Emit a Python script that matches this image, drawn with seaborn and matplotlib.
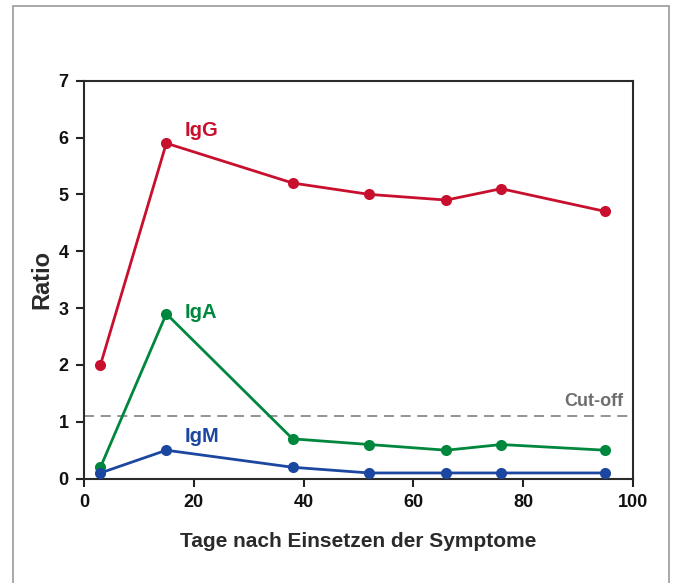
import numpy as np
import pandas as pd
import seaborn as sns
from matplotlib import pyplot as plt
from matplotlib.patches import Rectangle

# values
days = [3, 15, 38, 52, 66, 76, 95]
igg = [2.0, 5.9, 5.2, 5.0, 4.9, 5.1, 4.7]
iga = [0.2, 2.9, 0.7, 0.6, 0.5, 0.6, 0.5]
igm = [0.1, 0.5, 0.2, 0.1, 0.1, 0.1, 0.1]
cutoff = 1.1

colors = {'IgG': '#c8102e', 'IgA': '#00873e', 'IgM': '#1c47a0'}

df = pd.DataFrame({'Tage': days * 3,
                   'Ratio': igg + iga + igm,
                   'Ig': ['IgG'] * 7 + ['IgA'] * 7 + ['IgM'] * 7})

sns.set_style('white')
plt.rcParams['font.family'] = ['Liberation Sans', 'DejaVu Sans']
plt.rcParams['font.weight'] = 'bold'

fig = plt.figure(figsize=(6.74, 5.83), dpi=100)
ax = fig.add_axes([0.1246, 0.179, 0.8144, 0.6826])

sns.lineplot(data=df, x='Tage', y='Ratio', hue='Ig', palette=colors,
             marker='o', markersize=8, markeredgewidth=0, linewidth=2,
             legend=False, ax=ax, zorder=3)

ax.axhline(cutoff, color='#808080', linestyle=(0, (6, 4)), linewidth=1.2, zorder=2)
ax.text(98.3, 1.36, 'Cut-off', color='#6e6e6e', fontsize=13,
        fontweight='bold', ha='right', va='center')

ax.text(18.4, 6.13, 'IgG', color=colors['IgG'], fontsize=14.5, fontweight='bold', va='center')
ax.text(18.4, 2.92, 'IgA', color=colors['IgA'], fontsize=14.5, fontweight='bold', va='center')
ax.text(18.4, 0.74, 'IgM', color=colors['IgM'], fontsize=14.5, fontweight='bold', va='center')

ax.set_xlim(0, 100)
ax.set_ylim(0, 7)
ax.set_xticks(np.arange(0, 101, 20))
ax.set_yticks(np.arange(0, 8, 1))
ax.tick_params(direction='out', length=6, width=1.5, color='#222222',
               labelsize=13, labelcolor='#111111', pad=5, bottom=True, left=True)
for lab in ax.get_xticklabels() + ax.get_yticklabels():
    lab.set_fontweight('bold')
for s in ax.spines.values():
    s.set_color('#2a2a2a')
    s.set_linewidth(1.5)

ax.set_xlabel('Tage nach Einsetzen der Symptome', fontsize=15, fontweight='bold',
              color='#2a2a2a', labelpad=15)
ax.set_ylabel('Ratio', fontsize=17, fontweight='bold', color='#2a2a2a', labelpad=4)

# outer frame
fig.patches.append(Rectangle((13 / 674, -0.05), 656 / 674, 1.05 - 6 / 583,
                             transform=fig.transFigure, fill=False,
                             edgecolor='#999999', linewidth=1.2))

fig.savefig('out.png', dpi=100)
